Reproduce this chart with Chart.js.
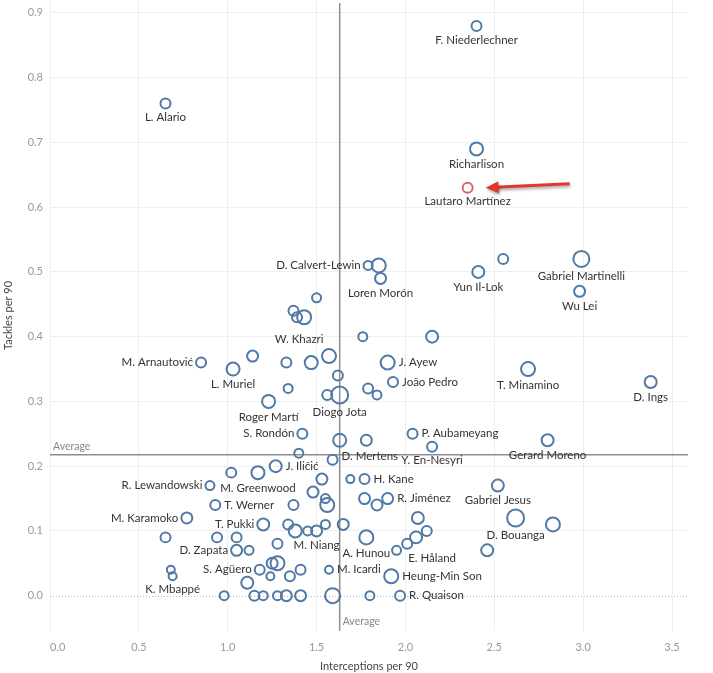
<!DOCTYPE html>
<html>
<head>
<meta charset="utf-8">
<script src="https://cdn.jsdelivr.net/npm/chart.js@4.4.0/dist/chart.umd.min.js"></script>
<style>
    html, body { margin: 0; padding: 0; background: #fff; }
    #wrap { width: 713px; height: 673px; }
</style>
</head>
<body>
<div id="wrap"><canvas id="chart" width="713" height="673"></canvas></div>
<script>
// players, '' = not labelled in the original
var players = [
    'F. Niederlechner', 'L. Alario', 'Richarlison', 'Lautaro Martínez', 'D. Calvert-Lewin', '', 'Loren Morón',
    'Yun Il-Lok', '', 'Gabriel Martinelli', 'Wu Lei', 'D. Ings', 'T. Minamino', 'J. Ayew', 'João Pedro',
    '', '', '', '', '', 'Diogo Jota', '', '', '', 'W. Khazri', '', '', '', '', '',
    'L. Muriel', 'M. Arnautović', '', 'Roger Martí', 'S. Rondón', '', '', 'P. Aubameyang', 'Y. En-Nesyri',
    'Gerard Moreno', 'D. Mertens', '', 'J. Iličić', 'M. Greenwood', '', 'R. Lewandowski', 'T. Werner',
    'M. Karamoko', '', '', '', '', '', 'T. Pukki', '', '', '', 'M. Niang', '', '', '', '', '',
    'D. Zapata', '', '', '', '', 'S. Agüero', '', '', '', '', '', 'K. Mbappé',
    '', '', '', '', '', '', '', '', 'R. Quaison', 'M. Icardi', 'A. Hunou', 'H. Kane', '',
    'R. Jiménez', '', '', '', '', 'E. Håland', '', '', 'Heung-Min Son', 'Gabriel Jesus', 'D. Bouanga', '', ''
];
var interceptions = [
    2.40, 0.65, 2.40, 2.35, 1.79, 1.85, 1.86,
    2.41, 2.55, 2.99, 2.98, 3.38, 2.69, 1.90, 1.93,
    2.15, 1.76, 1.79, 1.84, 1.62, 1.63, 1.56, 1.37, 1.39, 1.43, 1.50, 1.57, 1.47, 1.33, 1.14,
    1.03, 0.85, 1.34, 1.23, 1.42, 1.63, 1.78, 2.04, 2.15,
    2.80, 1.59, 1.40, 1.27, 1.17, 1.02, 0.90, 0.93,
    0.77, 1.53, 1.48, 1.55, 1.56, 1.37, 1.20, 1.34, 1.38, 1.45, 1.50, 1.55, 1.65, 1.28, 0.94, 1.05,
    1.05, 1.12, 0.65, 1.25, 1.28, 1.18, 1.24, 1.35, 1.41, 1.11, 0.68, 0.69,
    0.98, 1.15, 1.20, 1.28, 1.33, 1.41, 1.59, 1.80, 1.97, 1.57, 1.78, 1.77, 1.69,
    1.90, 1.77, 1.84, 2.07, 2.12, 2.06, 2.01, 1.95, 1.92, 2.52, 2.62, 2.83, 2.46
];
var tackles = [
    0.88, 0.76, 0.69, 0.63, 0.51, 0.51, 0.49,
    0.50, 0.52, 0.52, 0.47, 0.33, 0.35, 0.36, 0.33,
    0.40, 0.40, 0.32, 0.31, 0.34, 0.31, 0.31, 0.44, 0.43, 0.43, 0.46, 0.37, 0.36, 0.36, 0.37,
    0.35, 0.36, 0.32, 0.30, 0.25, 0.24, 0.24, 0.25, 0.23,
    0.24, 0.21, 0.22, 0.20, 0.19, 0.19, 0.17, 0.14,
    0.12, 0.18, 0.16, 0.15, 0.14, 0.14, 0.11, 0.11, 0.10, 0.10, 0.10, 0.11, 0.11, 0.08, 0.09, 0.09,
    0.07, 0.07, 0.09, 0.05, 0.05, 0.04, 0.03, 0.03, 0.04, 0.02, 0.04, 0.03,
    0.00, 0.00, 0.00, 0.00, 0.00, 0.00, 0.00, 0.00, 0.00, 0.04, 0.09, 0.18, 0.18,
    0.15, 0.15, 0.14, 0.12, 0.10, 0.09, 0.08, 0.07, 0.03, 0.17, 0.12, 0.11, 0.07
];
// minutes played (bubble size)
var minutes = [
    700, 700, 1190, 700, 570, 1380, 850,
    1010, 700, 1800, 850, 1010, 1380, 1380, 700,
    1010, 570, 700, 570, 700, 2030, 700, 700, 700, 1380, 570, 1380, 1190, 700, 850,
    1190, 700, 570, 1190, 700, 1190, 850, 700, 700,
    1010, 700, 570, 1010, 1190, 700, 570, 700,
    850, 850, 850, 570, 1380, 700, 1010, 700, 1190, 570, 850, 570, 850, 700, 700, 700,
    850, 570, 700, 850, 1380, 700, 450, 700, 700, 1010, 450, 450,
    570, 700, 570, 570, 850, 850, 1580, 570, 700, 450, 1380, 700, 450,
    850, 850, 850, 1010, 700, 1010, 700, 570, 1380, 1010, 2030, 1380, 1010
];
var highlighted = 'Lautaro Martínez';
var avgInterceptions = 1.63;
var avgTackles = 0.2175;
var xTicks = [0, 0.5, 1, 1.5, 2, 2.5, 3, 3.5];
var yTicks = [0, 0.1, 0.2, 0.3, 0.4, 0.5, 0.6, 0.7, 0.8, 0.9];

// where each name sits: b = below, r = right, l = left
var labelSide = {
    'J. Ayew': 'r', 'João Pedro': 'r', 'P. Aubameyang': 'r', 'D. Mertens': 'r', 'J. Iličić': 'r',
    'T. Werner': 'r', 'R. Quaison': 'r', 'M. Icardi': 'r', 'H. Kane': 'r', 'R. Jiménez': 'r', 'Heung-Min Son': 'r',
    'D. Calvert-Lewin': 'l', 'M. Arnautović': 'l', 'S. Rondón': 'l', 'R. Lewandowski': 'l', 'M. Karamoko': 'l',
    'T. Pukki': 'l', 'D. Zapata': 'l', 'S. Agüero': 'l'
};
var labelNudge = {'W. Khazri': [-5, 6], 'E. Håland': [16, 6], 'D. Mertens': [0, -3]};

var BLUE = '#5079a5';
var RED = '#e06666';
var FONT = 'Lato';

function radiusFor(m) {
    return 4 * Math.sqrt(m / 450);
}

// chart.js reserves room for half of the edge tick labels, drop it
function noPadding(s) {
    s.paddingTop = 0;
    s.paddingBottom = 0;
    s.paddingLeft = 0;
    s.paddingRight = 0;
}

var points = players.map(function (p, i) {
    return {x: interceptions[i], y: tackles[i]};
});

var refLines = {
    id: 'refLines',
    beforeDatasetsDraw: function (chart) {
        var ctx = chart.ctx, area = chart.chartArea;
        var xs = chart.scales.x, ys = chart.scales.y;
        var y0 = Math.round(ys.getPixelForValue(0)) + 0.5;
        var ax = xs.getPixelForValue(avgInterceptions);
        var ay = ys.getPixelForValue(avgTackles);
        ctx.save();
        ctx.strokeStyle = '#b8b8b8';
        ctx.lineWidth = 1;
        ctx.setLineDash([1, 2]);
        ctx.beginPath();
        ctx.moveTo(area.left, y0);
        ctx.lineTo(area.right, y0);
        ctx.stroke();
        ctx.setLineDash([]);
        ctx.strokeStyle = '#8e8e8e';
        ctx.lineWidth = 1.5;
        ctx.beginPath();
        ctx.moveTo(area.left, ay);
        ctx.lineTo(area.right, ay);
        ctx.moveTo(ax, area.top + 3);
        ctx.lineTo(ax, area.bottom);
        ctx.stroke();
        ctx.fillStyle = '#888';
        ctx.font = '10.5px ' + FONT;
        ctx.textAlign = 'left';
        ctx.textBaseline = 'middle';
        ctx.fillText('Average', area.left + 3, ay - 8);
        ctx.fillText('Average', ax + 3, area.bottom - 9);
        ctx.restore();
    }
};

var nameLabels = {
    id: 'nameLabels',
    afterDatasetsDraw: function (chart) {
        var ctx = chart.ctx;
        var meta = chart.getDatasetMeta(0);
        ctx.save();
        ctx.font = '11.5px ' + FONT;
        ctx.fillStyle = '#333';
        ctx.textBaseline = 'middle';
        players.forEach(function (name, i) {
            if (!name) return;
            var el = meta.data[i];
            var r = radiusFor(minutes[i]);
            var side = labelSide[name] || 'b';
            var nudge = labelNudge[name] || [0, 0];
            var x = el.x, y = el.y;
            if (side === 'r') {
                ctx.textAlign = 'left';
                x += r + 4;
            } else if (side === 'l') {
                ctx.textAlign = 'right';
                x -= r + 3;
            } else {
                ctx.textAlign = 'center';
                y += r + 9;
            }
            ctx.fillText(name, x + nudge[0], y + nudge[1]);
        });
        ctx.restore();
    }
};

var pointer = {
    id: 'pointer',
    afterDatasetsDraw: function (chart) {
        var i = players.indexOf(highlighted);
        var el = chart.getDatasetMeta(0).data[i];
        var ctx = chart.ctx;
        var tipX = el.x + 18, tipY = el.y;
        var tailX = el.x + 102, tailY = el.y - 4;
        var ang = Math.atan2(tipY - tailY, tipX - tailX);
        ctx.save();
        ctx.shadowColor = 'rgba(0,0,0,0.35)';
        ctx.shadowBlur = 3;
        ctx.shadowOffsetX = 1;
        ctx.shadowOffsetY = 2;
        ctx.strokeStyle = '#e2362f';
        ctx.fillStyle = '#e2362f';
        ctx.lineWidth = 3;
        ctx.beginPath();
        ctx.moveTo(tailX, tailY);
        ctx.lineTo(tipX - 9 * Math.cos(ang), tipY - 9 * Math.sin(ang));
        ctx.stroke();
        ctx.beginPath();
        ctx.moveTo(tipX, tipY);
        ctx.lineTo(tipX - 13 * Math.cos(ang) + 6 * Math.sin(ang), tipY - 13 * Math.sin(ang) - 6 * Math.cos(ang));
        ctx.lineTo(tipX - 13 * Math.cos(ang) - 6 * Math.sin(ang), tipY - 13 * Math.sin(ang) + 6 * Math.cos(ang));
        ctx.closePath();
        ctx.fill();
        ctx.restore();
    }
};

new Chart(document.getElementById('chart').getContext('2d'), {
    type: 'scatter',
    data: {
        datasets: [{
            data: points,
            pointRadius: function (c) { return radiusFor(minutes[c.dataIndex]); },
            pointHoverRadius: function (c) { return radiusFor(minutes[c.dataIndex]); },
            pointBorderWidth: 2,
            pointBorderColor: function (c) { return players[c.dataIndex] === highlighted ? RED : BLUE; },
            pointBackgroundColor: 'rgba(255,255,255,0)'
        }]
    },
    options: {
        responsive: false,
        devicePixelRatio: 1,
        animation: false,
        layout: {autoPadding: false, padding: {top: 0, right: 25, bottom: 0, left: 0}},
        plugins: {legend: {display: false}, tooltip: {enabled: false}},
        scales: {
            x: {
                type: 'linear',
                min: 0,
                max: 3.59,
                afterBuildTicks: function (s) {
                    s.ticks = xTicks.concat([3.59]).map(function (v) { return {value: v}; });
                },
                afterFit: function (s) {
                    s.height = 42;
                    noPadding(s);
                },
                border: {display: false},
                grid: {
                    drawTicks: false,
                    color: function (c) { return c.tick && c.tick.value > 3.5 ? 'rgba(0,0,0,0)' : '#efefef'; }
                },
                ticks: {
                    autoSkip: false,
                    maxRotation: 0,
                    align: 'inner',
                    padding: 10,
                    color: '#999',
                    font: {family: FONT, size: 11},
                    callback: function (v) { return v > 3.5 ? '' : v.toFixed(1); }
                },
                title: {
                    display: true,
                    text: 'Interceptions per 90',
                    color: '#444',
                    font: {family: FONT, size: 11},
                    padding: {top: 0, bottom: 0}
                }
            },
            y: {
                type: 'linear',
                min: -0.0546,
                max: 0.92,
                afterBuildTicks: function (s) {
                    s.ticks = yTicks.map(function (v) { return {value: v}; });
                },
                afterFit: function (s) {
                    s.width = 50;
                    noPadding(s);
                },
                border: {display: false},
                grid: {
                    drawTicks: false,
                    color: function (c) { return c.tick && c.tick.value === 0 ? 'rgba(0,0,0,0)' : '#efefef'; }
                },
                ticks: {
                    padding: 7,
                    color: '#999',
                    font: {family: FONT, size: 11},
                    callback: function (v) { return v.toFixed(1); }
                },
                title: {
                    display: true,
                    text: 'Tackles per 90',
                    color: '#444',
                    font: {family: FONT, size: 11},
                    padding: {top: 2, bottom: 0}
                }
            }
        }
    },
    plugins: [refLines, nameLabels, pointer]
});
</script>
</body>
</html>
